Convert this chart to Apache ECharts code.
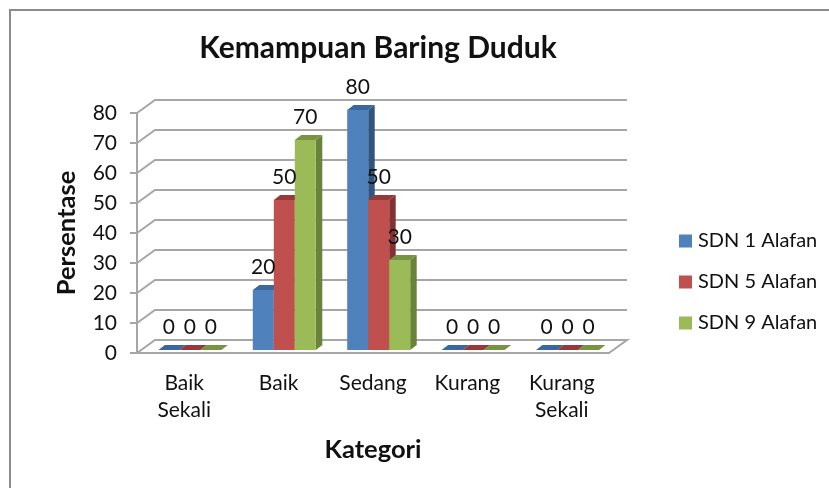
<!DOCTYPE html>
<html>
<head>
<meta charset="utf-8">
<style>html,body{margin:0;padding:0;background:#fff}#c{width:829px;height:488px}</style>
<script src="https://cdn.jsdelivr.net/npm/echarts@6/dist/echarts.min.js"></script>
</head>
<body>
<div id="c"></div>
<script>
const categories = ['Baik\nSekali', 'Baik', 'Sedang', 'Kurang', 'Kurang\nSekali'];
const sdn1 = [0, 20, 80, 0, 0];
const sdn5 = [0, 50, 50, 0, 0];
const sdn9 = [0, 70, 30, 0, 0];
const yTicks = [0, 10, 20, 30, 40, 50, 60, 70, 80];
const names = ['SDN 1 Alafan', 'SDN 5 Alafan', 'SDN 9 Alafan'];
const FONT = 'Lato, sans-serif';
const WALL = { dx: 18, dy: 13 };
const BAR = { dx: 6.5, dy: 5, offX: 5.7, offY: 3, width: 21 };
const COLORS = [
  { front: '#4F81BD', top: '#3A679E', side: '#30557F' },
  { front: '#C0504D', top: '#95393A', side: '#823230' },
  { front: '#9BBB59', top: '#789442', side: '#6A8239' }
];
const GRIDLINE = '#A6A6A6';

function wallItem(params, api) {
  const cs = params.coordSys;
  const v = api.value(0);
  const y = api.coord([0, v])[1];
  const xl = cs.x, xr = cs.x + cs.width;
  const pts = v === 0
    ? [[xl, y], [xl + WALL.dx, y - WALL.dy], [xr + WALL.dx, y - WALL.dy], [xr, y]]
    : [[xl, y], [xl + WALL.dx, y - WALL.dy], [xr + WALL.dx, y - WALL.dy]];
  return {
    type: 'polyline',
    silent: true,
    shape: { points: pts },
    style: { stroke: GRIDLINE, lineWidth: 2, fill: null }
  };
}

function barRenderer(si) {
  return function (params, api) {
    const cat = api.value(0), val = api.value(1);
    const c = COLORS[si];
    const pTop = api.coord([cat, val]);
    const pBase = api.coord([cat, 0]);
    const x0 = pTop[0] + BAR.offX + (si - 1.5) * BAR.width;
    const x1 = x0 + BAR.width;
    const yT = pTop[1] - BAR.offY, yB = pBase[1] - BAR.offY;
    return {
      type: 'group',
      children: [
        { type: 'polygon', shape: { points: [[x1, yT], [x1 + BAR.dx, yT - BAR.dy], [x1 + BAR.dx, yB - BAR.dy], [x1, yB]] }, style: { fill: c.side } },
        { type: 'polygon', shape: { points: [[x0, yT], [x0 + BAR.dx, yT - BAR.dy], [x1 + BAR.dx, yT - BAR.dy], [x1, yT]] }, style: { fill: c.top } },
        { type: 'rect', shape: { x: x0, y: yT, width: BAR.width, height: yB - yT }, style: { fill: c.front } },
        { type: 'text', z2: 100, style: { text: String(val), x: x0 + BAR.width / 2, y: yT - 23, align: 'center', verticalAlign: 'middle', font: '21px ' + FONT, fill: '#111' } }
      ]
    };
  };
}

function seriesFor(si, values) {
  return {
    name: names[si],
    type: 'custom',
    z: 3,
    itemStyle: { color: COLORS[si].front },
    encode: { x: 0, y: 1 },
    data: values.map((v, i) => [i, v]),
    renderItem: barRenderer(si)
  };
}

const chart = echarts.init(document.getElementById('c'), null, { renderer: 'canvas' });
chart.setOption({
  animation: false,
  backgroundColor: '#fff',
  title: {
    text: 'Kemampuan Baring Duduk',
    left: 373, top: 28, textAlign: 'center',
    textStyle: { fontFamily: FONT, fontSize: 30, fontWeight: 'bold', color: '#111' }
  },
  legend: {
    data: names, orient: 'vertical', left: 679, top: 231, padding: 0,
    icon: 'rect', itemWidth: 13, itemHeight: 13, itemGap: 21,
    textStyle: { fontFamily: FONT, fontSize: 20, color: '#111', padding: [0, 0, 0, 1] }
  },
  grid: { left: 137, top: 113, width: 472, height: 240 },
  xAxis: {
    type: 'category', data: categories,
    name: 'Kategori', nameLocation: 'middle', nameGap: 84,
    nameTextStyle: { fontFamily: FONT, fontSize: 25.5, fontWeight: 'bold', color: '#111' },
    axisLine: { lineStyle: { color: GRIDLINE, width: 2 } },
    axisTick: { length: 6, lineStyle: { color: GRIDLINE, width: 2 } },
    axisLabel: { fontFamily: FONT, fontSize: 21, color: '#111', lineHeight: 27, margin: 17, interval: 0 }
  },
  yAxis: {
    type: 'value', min: 0, max: 80, interval: 10,
    name: 'Persentase', nameLocation: 'middle', nameGap: 57,
    nameTextStyle: { fontFamily: FONT, fontSize: 25.5, fontWeight: 'bold', color: '#111' },
    splitLine: { show: false },
    axisLine: { show: true, lineStyle: { color: GRIDLINE, width: 2 } },
    axisTick: { show: true, length: 7, lineStyle: { color: GRIDLINE, width: 2 } },
    axisLabel: { fontFamily: FONT, fontSize: 21, color: '#111', margin: 20 }
  },
  graphic: [
    { type: 'polyline', silent: true, shape: { points: [[829, 10], [10, 10], [10, 488]] }, style: { stroke: '#8C8C8C', lineWidth: 2, fill: null } }
  ],
  series: [
    {
      type: 'custom', name: 'wall', z: 1, silent: true,
      encode: { y: 0 },
      data: yTicks.map(v => [v]),
      renderItem: wallItem
    },
    seriesFor(0, sdn1),
    seriesFor(1, sdn5),
    seriesFor(2, sdn9)
  ]
});
</script>
</body>
</html>
